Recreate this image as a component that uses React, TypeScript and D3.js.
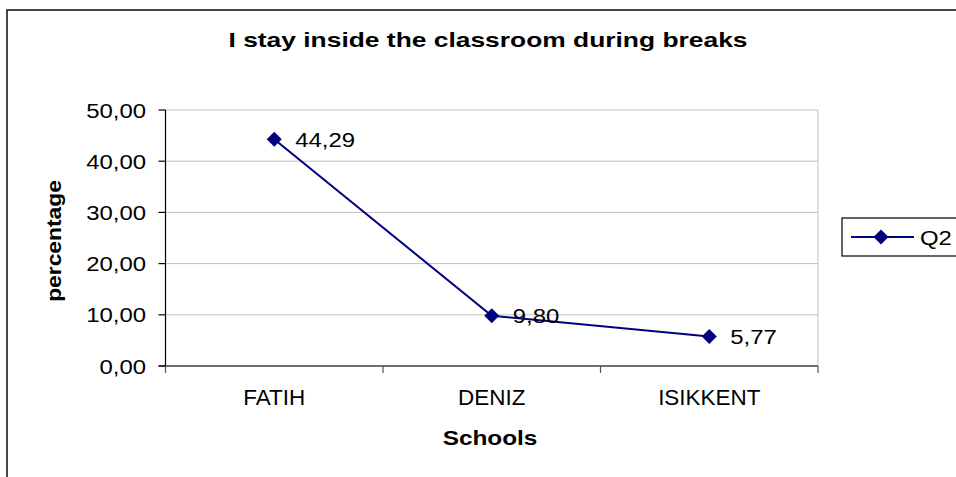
import React from "react";
import * as d3 from "d3";

const categories = ["FATIH", "DENIZ", "ISIKKENT"];
const q2Values = [44.29, 9.8, 5.77];
const valueLabels = ["44,29", "9,80", "5,77"];
const yTicks = [0, 10, 20, 30, 40, 50];
const yTickLabels = ["0,00", "10,00", "20,00", "30,00", "40,00", "50,00"];
const seriesName = "Q2";
const title = "I stay inside the classroom during breaks";
const xTitle = "Schools";
const yTitle = "percentage";

const W = 956;
const H = 477;
const plot = { left: 165.5, right: 818, top: 110, bottom: 366 };
const NAVY = "#000080";
const FONT = "'Liberation Sans', Arial, sans-serif";
const SX = 1.14;

function T({ x, y, sx = SX, anchor = "start", size = 21, weight = "normal", rotate = 0, children }: any) {
  return (
    <text
      transform={`translate(${x},${y}) rotate(${rotate}) scale(${sx},1)`}
      textAnchor={anchor}
      fontFamily={FONT}
      fontSize={size}
      fontWeight={weight}
      fill="#000"
    >
      {children}
    </text>
  );
}

function diamond(cx: number, cy: number, r: number) {
  return `M${cx},${cy - r}L${cx + r},${cy}L${cx},${cy + r}L${cx - r},${cy}Z`;
}

export default function App() {
  const y = d3.scaleLinear().domain([0, 50]).range([plot.bottom, plot.top]);
  const xb = d3.scaleBand<string>().domain(categories).range([plot.left, plot.right]);
  const xc = (c: string) => (xb(c) as number) + xb.bandwidth() / 2;
  const pts = categories.map((c, i) => [xc(c), y(q2Values[i])] as [number, number]);
  const line = d3.line()(pts) as string;
  const xTickPos = [...categories.map((c) => xb(c) as number), plot.right];

  return (
    <svg width={W} height={H} style={{ position: "absolute", left: 0, top: 0, background: "#fff" }}>
      <rect x={0} y={0} width={W} height={H} fill="#fff" />
      <rect x={7} y={10} width={960} height={500} fill="none" stroke="#1a1a1a" strokeWidth={1.6} />
      <text
        x={488}
        y={47}
        textAnchor="middle"
        fontFamily={FONT}
        fontSize={21}
        fontWeight="bold"
        textLength={519}
        lengthAdjust="spacingAndGlyphs"
      >
        {title}
      </text>
      {yTicks.map((t) => (
        <line key={"g" + t} x1={plot.left} x2={plot.right} y1={y(t)} y2={y(t)} stroke="#c0c0c0" strokeWidth={1} />
      ))}
      <line x1={plot.right} x2={plot.right} y1={plot.top} y2={plot.bottom} stroke="#c0c0c0" strokeWidth={1} />
      <line x1={plot.left} x2={plot.left} y1={plot.top} y2={plot.bottom} stroke="#000" strokeWidth={1.2} />
      <line x1={plot.left - 7} x2={plot.right} y1={plot.bottom} y2={plot.bottom} stroke="#000" strokeWidth={1.2} />
      {yTicks.map((t, i) => (
        <g key={"yt" + t}>
          <line x1={plot.left - 7} x2={plot.left} y1={y(t)} y2={y(t)} stroke="#000" strokeWidth={1.2} />
          <T x={146} y={y(t) + 7.5} anchor="end">
            {yTickLabels[i]}
          </T>
        </g>
      ))}
      {xTickPos.map((p, i) => (
        <line key={"xt" + i} x1={p} x2={p} y1={plot.bottom} y2={plot.bottom + 7} stroke="#555" strokeWidth={1.2} />
      ))}
      {categories.map((c) => (
        <T key={c} x={xc(c)} y={405} anchor="middle" size={22} sx={1.02}>
          {c}
        </T>
      ))}
      <T x={490} y={445} anchor="middle" weight="bold" size={21} sx={1.16}>
        {xTitle}
      </T>
      <T x={61} y={241} anchor="middle" weight="bold" size={20} rotate={-90} sx={1.14}>
        {yTitle}
      </T>
      <path d={line} fill="none" stroke={NAVY} strokeWidth={2} />
      {pts.map((p, i) => (
        <g key={"p" + i}>
          <path d={diamond(p[0], p[1], 7.5)} fill={NAVY} />
          <T x={p[0] + 21} y={p[1] + 7.5}>
            {valueLabels[i]}
          </T>
        </g>
      ))}
      <rect x={842} y={218} width={130} height={38} fill="#fff" stroke="#000" strokeWidth={1.2} />
      <line x1={851} x2={914} y1={237} y2={237} stroke={NAVY} strokeWidth={2} />
      <path d={diamond(881, 237, 7.5)} fill={NAVY} />
      <T x={920} y={245}>
        {seriesName}
      </T>
    </svg>
  );
}
